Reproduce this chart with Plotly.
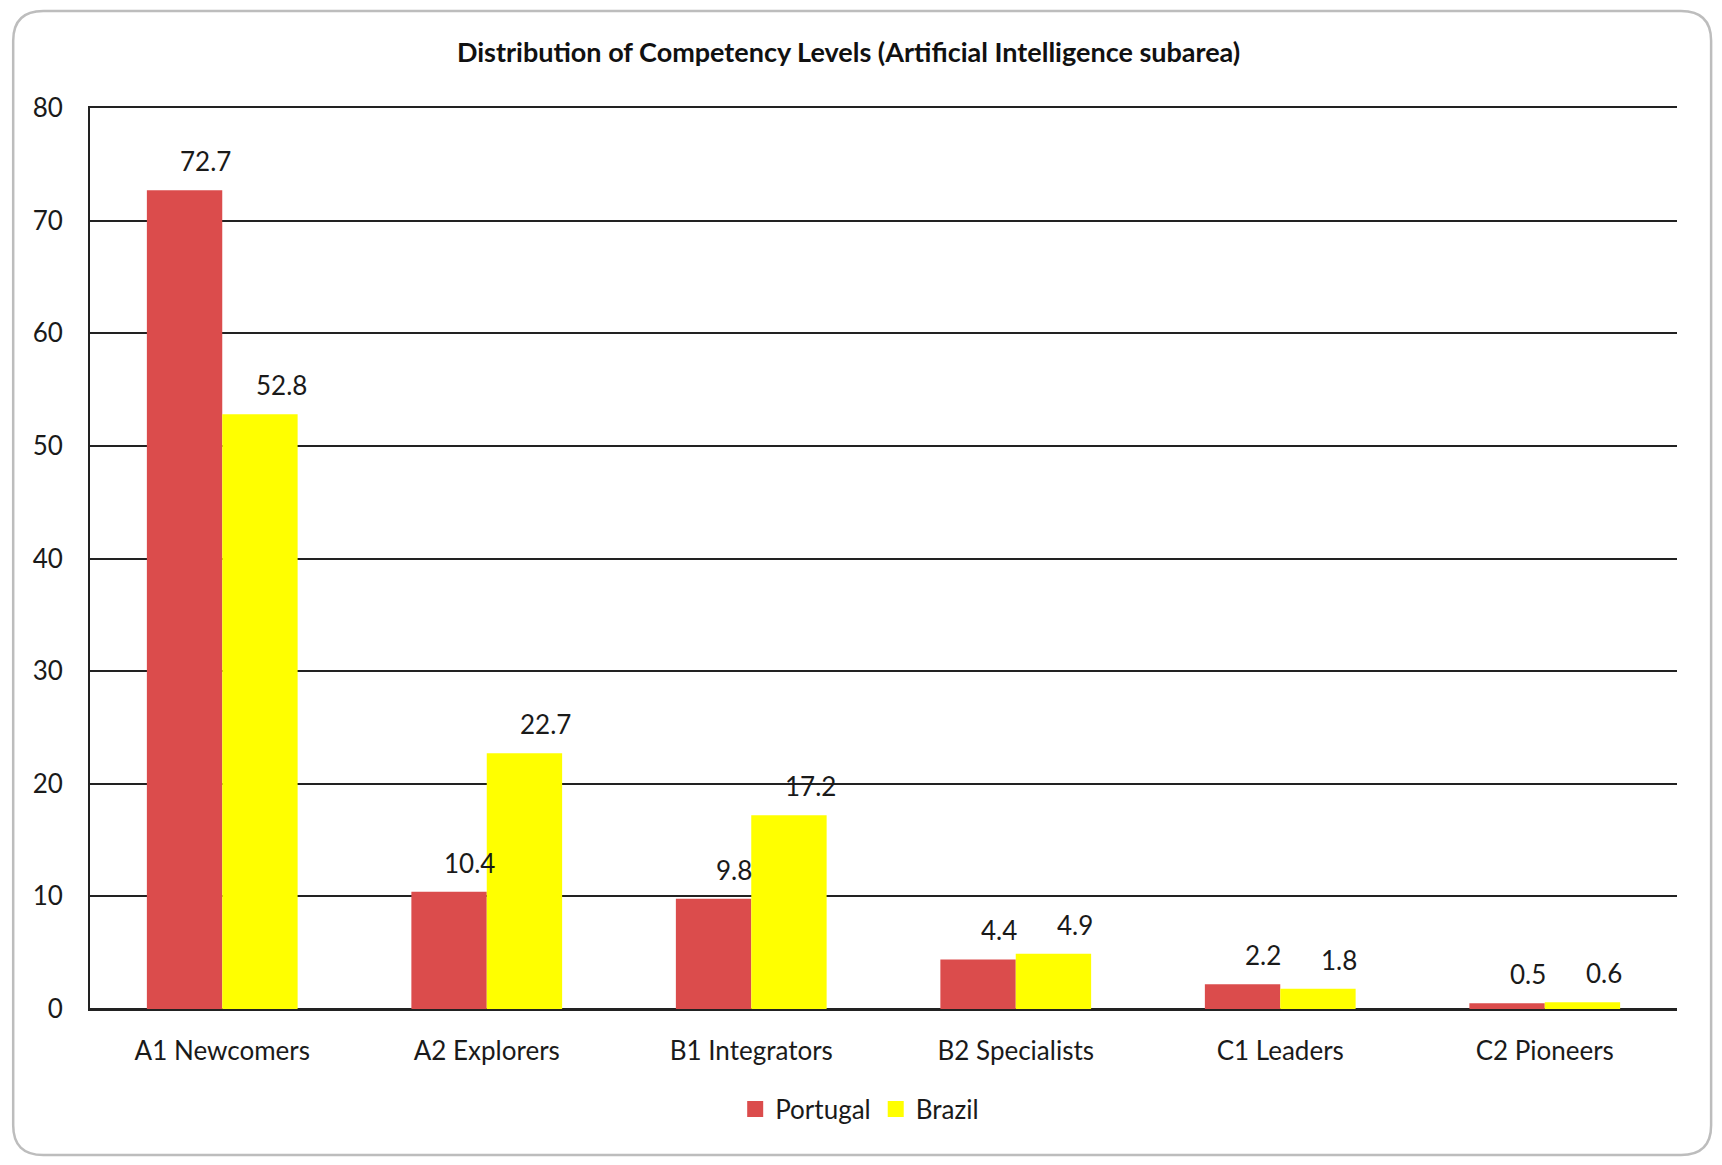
import plotly.graph_objects as go

# competency levels and share of respondents (%)
levels = ['A1 Newcomers', 'A2 Explorers', 'B1 Integrators', 'B2 Specialists', 'C1 Leaders', 'C2 Pioneers']
portugal = [72.7, 10.4, 9.8, 4.4, 2.2, 0.5]
brazil = [52.8, 22.7, 17.2, 4.9, 1.8, 0.6]
y_ticks = [0, 10, 20, 30, 40, 50, 60, 70, 80]

font = 'Lato, Carlito, Calibri, sans-serif'
red = '#DB4C4C'
yellow = '#FFFF00'
txt = '#1a1a1a'

fig = go.Figure()
fig.add_trace(go.Bar(x=levels, y=portugal, name='Portugal', marker_color=red,
                     marker_line_width=0, showlegend=False))
fig.add_trace(go.Bar(x=levels, y=brazil, name='Brazil', marker_color=yellow,
                     marker_line_width=0, showlegend=False))
# legend entries with bigger square swatches
for name, col in [('Portugal', red), ('Brazil', yellow)]:
    fig.add_trace(go.Scatter(x=[None], y=[None], mode='markers', name=name,
                             marker=dict(symbol='square', size=16, color=col)))

# data labels, sitting a bit right of each bar like the Excel original
for vals, shift in [(portugal, -17), (brazil, 59)]:
    for lvl, v in zip(levels, vals):
        fig.add_annotation(x=lvl, y=v, text=f'{v:.1f}', showarrow=False,
                           xshift=shift, yshift=29, yanchor='middle',
                           font=dict(family=font, size=26, color=txt))

# rounded outer frame
x0, x1, y0, y1 = -0.0484, 1.0215, -0.162, 1.1077
rx, ry = 0.019, 0.033
path = (f'M {x0+rx},{y1} L {x1-rx},{y1} Q {x1},{y1} {x1},{y1-ry} '
        f'L {x1},{y0+ry} Q {x1},{y0} {x1-rx},{y0} '
        f'L {x0+rx},{y0} Q {x0},{y0} {x0},{y0+ry} '
        f'L {x0},{y1-ry} Q {x0},{y1} {x0+rx},{y1} Z')
fig.add_shape(type='path', path=path, xref='paper', yref='paper',
              line=dict(color='#BDBDBD', width=2.5), layer='below')

fig.update_layout(
    width=1706, height=1149,
    margin=dict(l=82, r=37, t=100, b=148),
    paper_bgcolor='white', plot_bgcolor='white',
    title=dict(text='<b>Distribution of Competency Levels (Artificial Intelligence subarea)</b>',
               x=0.478, xref='paper', xanchor='center', y=1 - 45 / 1149, yanchor='middle',
               yref='container', font=dict(family=font, size=27, color='#111')),
    barmode='group', bargap=0.43, bargroupgap=0,
    font=dict(family=font, size=26, color=txt),
    legend=dict(orientation='h', x=0.485, xanchor='center', y=-0.111, yanchor='middle',
                font=dict(family=font, size=26, color=txt), itemwidth=30,
                traceorder='normal'),
)
fig.update_xaxes(showgrid=False, showline=True, mirror=True, linecolor='#222', linewidth=2,
                 ticks='', ticklabelstandoff=18,
                 tickfont=dict(family=font, size=26, color=txt))
fig.update_yaxes(range=[0, 80], tickvals=y_ticks, showgrid=True, gridcolor='#222', gridwidth=2,
                 zeroline=True, zerolinecolor='#222', zerolinewidth=2,
                 showline=True, linecolor='#222', linewidth=2, ticks='', ticklabelstandoff=20,
                 tickfont=dict(family=font, size=26, color=txt))

fig.write_html('out.html')
